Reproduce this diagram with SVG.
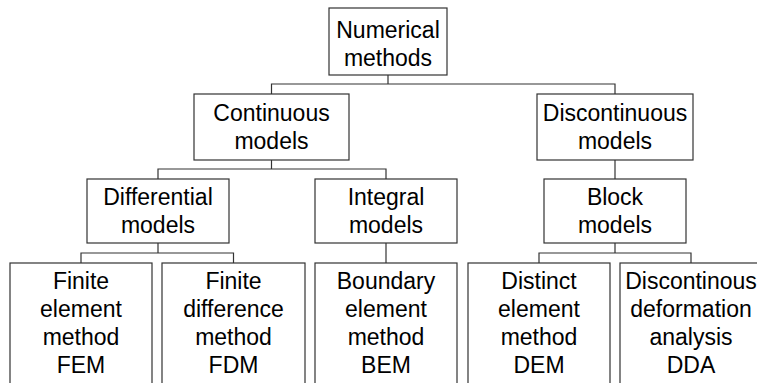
<svg xmlns="http://www.w3.org/2000/svg" width="757" height="383" viewBox="0 0 757 383">
<style>
rect{fill:#fff;stroke:#333;stroke-width:1.2}
text{font-family:"Liberation Sans",Arial,sans-serif;font-size:23px;fill:#000;text-anchor:middle}
.c{fill:none;stroke:#333;stroke-width:1.2}
</style>
<rect x="0" y="0" width="757" height="383" style="stroke:none"/>
<g id="connectors">
<path class="c" d="M388,75V84M271.5,94V84H615V94"/>
<path class="c" d="M271.5,160V169M158,179V169H386V179"/>
<path class="c" d="M615,160V179"/>
<path class="c" d="M158,243V253M81,263V253H233.5V263"/>
<path class="c" d="M386,243V263"/>
<path class="c" d="M615,243V253M539,263V253H691V263"/>
</g>
<g id="numerical"><rect x="329" y="8" width="118" height="67"/><text x="388" y="37.5">Numerical</text><text x="388" y="65.5">methods</text></g>
<g id="continuous"><rect x="194" y="94" width="155" height="66"/><text x="271.5" y="121">Continuous</text><text x="271.5" y="149">models</text></g>
<g id="discontinuous"><rect x="537" y="94" width="156" height="66"/><text x="615" y="121">Discontinuous</text><text x="615" y="149">models</text></g>
<g id="differential"><rect x="87" y="179" width="142" height="64"/><text x="158" y="205">Differential</text><text x="158" y="233">models</text></g>
<g id="integral"><rect x="315" y="179" width="142" height="64"/><text x="386" y="205">Integral</text><text x="386" y="233">models</text></g>
<g id="block"><rect x="544" y="179" width="142" height="64"/><text x="615" y="205">Block</text><text x="615" y="233">models</text></g>
<g id="fem"><rect x="10" y="263" width="142" height="130"/><text x="81" y="289">Finite</text><text x="81" y="317">element</text><text x="81" y="345">method</text><text x="81" y="373">FEM</text></g>
<g id="fdm"><rect x="162" y="263" width="143" height="130"/><text x="233.5" y="289">Finite</text><text x="233.5" y="317">difference</text><text x="233.5" y="345">method</text><text x="233.5" y="373">FDM</text></g>
<g id="bem"><rect x="315" y="263" width="142" height="130"/><text x="386" y="289">Boundary</text><text x="386" y="317">element</text><text x="386" y="345">method</text><text x="386" y="373">BEM</text></g>
<g id="dem"><rect x="468" y="263" width="142" height="130"/><text x="539" y="289">Distinct</text><text x="539" y="317">element</text><text x="539" y="345">method</text><text x="539" y="373">DEM</text></g>
<g id="dda"><rect x="620" y="263" width="142" height="130"/><text x="691" y="289">Discontinous</text><text x="691" y="317">deformation</text><text x="691" y="345">analysis</text><text x="691" y="373">DDA</text></g>
</svg>
